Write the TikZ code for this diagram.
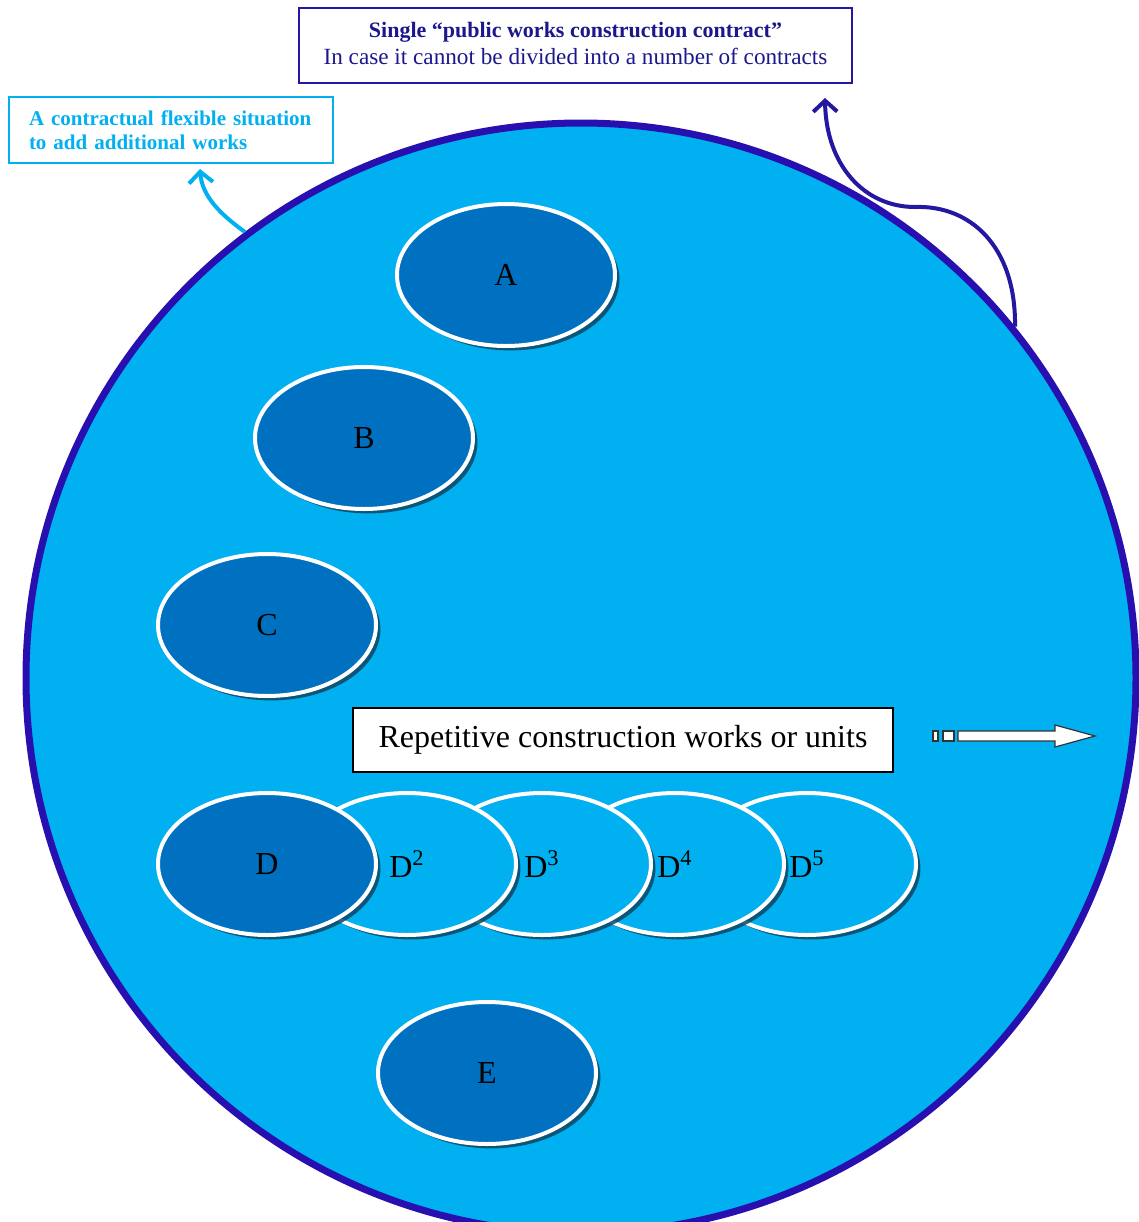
\documentclass[tikz,border=0pt]{standalone}
\usepackage{fontspec}
\setmainfont{Liberation Serif}
\usetikzlibrary{shapes.geometric,shadows,arrows.meta,calc}

\definecolor{ringfill}{HTML}{00B0F0}
\definecolor{ringline}{RGB}{40,16,176}
\definecolor{coreblue}{HTML}{0070C0}
\definecolor{navytext}{RGB}{28,24,140}
\definecolor{navyline}{RGB}{36,24,160}
\definecolor{shadowc}{RGB}{14,70,100}

\tikzset{
  unit/.style={ellipse, draw=white, line width=2pt, inner sep=0pt,
    minimum width=109pt, minimum height=71pt,
    font=\fontsize{16}{18}\selectfont,
    drop shadow={shadow xshift=2.2pt, shadow yshift=-2.2pt, fill=shadowc, opacity=0.85}},
  core/.style={unit, fill=coreblue},
  repunit/.style={unit, fill=ringfill},
  flexarrow/.style={draw=ringfill, line width=2pt,
    -{Straight Barb[length=5.5pt,width=12pt,line width=2pt]}},
  contractarrow/.style={draw=navyline, line width=2pt,
    -{Straight Barb[length=5.5pt,width=12pt,line width=2pt]}},
  blockpart/.style={draw=black!80, fill=white, line width=0.6pt}
}

\begin{document}
\begin{tikzpicture}[x=0.5pt,y=-0.5pt]
\useasboundingbox (0,0) rectangle (1139,1222);

% the whole works, one circle
\node[circle, draw=ringline, fill=ringfill, line width=3.5pt,
      minimum size=555pt, inner sep=0pt] (works) at (581,678) {};

% separate works
\node[core] (A) at (506,275) {A};
\node[core] (B) at (364,438) {B};
\node[core] (C) at (267,625) {C};

% repetitive units, back to front
\node[repunit] (D5) at (807,864) {D\textsuperscript{5}};
\node[repunit] (D4) at (675,864) {D\textsuperscript{4}};
\node[repunit] (D3) at (542,864) {D\textsuperscript{3}};
\node[repunit] (D2) at (407,864) {D\textsuperscript{2}};
\node[core] (D) at (267,864) {D};

\node[core] (E) at (487,1073) {E};

% caption of the repetitive row
\node[draw=black, fill=white, line width=0.8pt, minimum width=270pt,
      minimum height=32pt, inner sep=0pt,
      font=\fontsize{16}{18}\selectfont] (rep) at (623,740)
  {Repetitive construction works or units};

% block arrow pointing right
\draw[blockpart] (933,731) rectangle (938,741);
\draw[blockpart] (943,731) rectangle (954,741);
\draw[blockpart] (958,731) -- (1055,731) -- (1055,725) -- (1095,736)
  -- (1055,747) -- (1055,741) -- (958,741) -- cycle;

% single contract box, its two lines set as a centred label
\node[draw=navyline, line width=1pt, fill=white, minimum width=276.5pt,
      minimum height=37.5pt, inner sep=0pt,
      label={[text=navytext, align=center, yshift=1pt]center:
        {\fontsize{11}{13.5}\selectfont\bfseries Single “public works construction contract”}\\[1.5pt]
        {\fontsize{11.6}{13.5}\selectfont In case it cannot be divided into a number of contracts}}]
  (contract) at (575.5,45.5) {};

% flexible situation box
\node[draw=ringfill, line width=1pt, fill=white, minimum width=162pt,
      minimum height=33pt, inner xsep=10pt, inner ysep=0pt,
      text width=142pt, align=left, text=ringfill,
      font=\fontsize{10.5}{12}\selectfont\bfseries]
  (flex) at (171,130)
  {A contractual flexible situation\\to add additional works};

% connectors
\coordinate (fliptip) at (200,169);
\coordinate (contip) at (825,98);

\draw[flexarrow] (works.127.5) .. controls (220,214) and (202,196) .. (fliptip);
\draw[contractarrow] (works.39.5) .. controls (1016,246) and (970,205) .. (915,207)
  .. controls (864,207) and (826,165) .. (contip);
\end{tikzpicture}
\end{document}
